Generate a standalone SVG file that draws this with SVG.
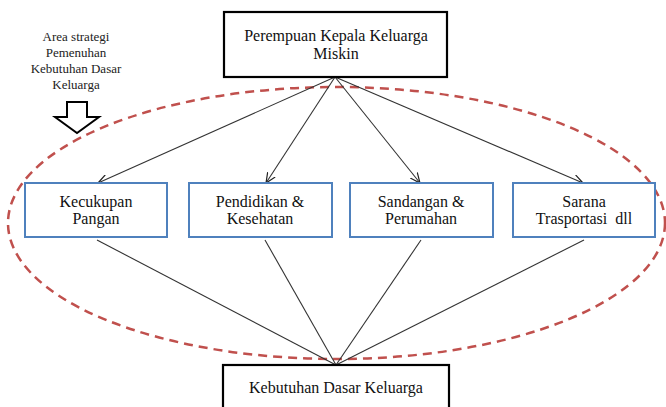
<svg xmlns="http://www.w3.org/2000/svg" width="666" height="407" viewBox="0 0 666 407">
<defs>
<marker id="ah" viewBox="0 0 10 10" refX="10" refY="5" markerWidth="10" markerHeight="10" markerUnits="userSpaceOnUse" orient="auto">
<path d="M0,0.5 L10,5 L0,9.5" fill="none" stroke="#222" stroke-width="1.2"/>
</marker>
</defs>
<style>
.t{font-family:"Liberation Serif","Times New Roman",serif;font-size:16px;fill:#111;text-anchor:middle}
.s{font-family:"Liberation Serif","Times New Roman",serif;font-size:13px;fill:#222;text-anchor:middle}
.bk{fill:#fff;stroke:#000;stroke-width:2.2}
.bl{fill:#fff;stroke:#4F81BD;stroke-width:2}
.ln{stroke:#333;stroke-width:1.1;fill:none}
</style>
<ellipse cx="336.5" cy="223" rx="328.5" ry="136" fill="none" stroke="#C0504D" stroke-width="2.5" stroke-dasharray="9,6"/>
<g id="label">
<text class="s" x="76" y="41">Area strategi</text>
<text class="s" x="76" y="57">Pemenuhan</text>
<text class="s" x="76" y="73">Kebutuhan Dasar</text>
<text class="s" x="76" y="89">Keluarga</text>
<polygon points="67,102 87,102 87,117 99,117 77,133 55,117 67,117" fill="#fff" stroke="#000" stroke-width="2"/>
</g>
<g id="connectors">
<line class="ln" x1="335" y1="77" x2="98" y2="183" marker-end="url(#ah)"/>
<line class="ln" x1="335" y1="77" x2="266" y2="183" marker-end="url(#ah)"/>
<line class="ln" x1="335" y1="77" x2="420" y2="183" marker-end="url(#ah)"/>
<line class="ln" x1="335" y1="77" x2="583" y2="183" marker-end="url(#ah)"/>
<line class="ln" x1="97" y1="240" x2="336" y2="365"/>
<line class="ln" x1="265" y1="240" x2="336" y2="365"/>
<line class="ln" x1="421" y1="240" x2="336" y2="365"/>
<line class="ln" x1="584" y1="240" x2="336" y2="365"/>
</g>
<g id="top">
<rect class="bk" x="224" y="12" width="223" height="65"/>
<text class="t" x="336" y="41">Perempuan Kepala Keluarga</text>
<text class="t" x="336" y="59">Miskin</text>
</g>
<g id="pangan">
<rect class="bl" x="25" y="183" width="142" height="54"/>
<text class="t" x="96" y="207">Kecukupan</text>
<text class="t" x="96" y="224">Pangan</text>
</g>
<g id="pendidikan">
<rect class="bl" x="189" y="183" width="143" height="54"/>
<text class="t" x="260" y="207">Pendidikan &amp;</text>
<text class="t" x="260" y="224">Kesehatan</text>
</g>
<g id="sandangan">
<rect class="bl" x="350" y="183" width="143" height="54"/>
<text class="t" x="421" y="207">Sandangan &amp;</text>
<text class="t" x="421" y="224">Perumahan</text>
</g>
<g id="sarana">
<rect class="bl" x="513" y="183" width="142" height="54"/>
<text class="t" x="584" y="207">Sarana</text>
<text class="t" x="584" y="224">Trasportasi&#160; dll</text>
</g>
<g id="bottom">
<rect class="bk" x="223" y="365" width="226" height="60"/>
<text class="t" x="336" y="393">Kebutuhan Dasar Keluarga</text>
</g>
</svg>
